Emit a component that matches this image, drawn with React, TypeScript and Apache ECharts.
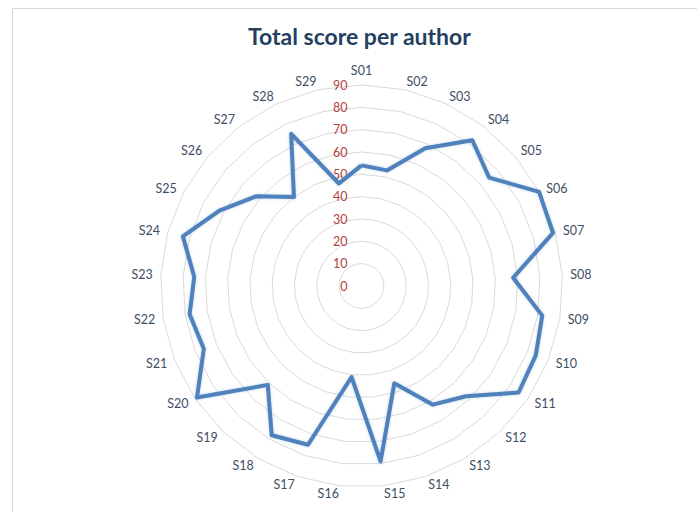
import React, { useEffect, useRef } from "react";
import * as echarts from "echarts";

const categories = [
  "S01", "S02", "S03", "S04", "S05", "S06", "S07", "S08", "S09", "S10",
  "S11", "S12", "S13", "S14", "S15", "S16", "S17", "S18", "S19", "S20",
  "S21", "S22", "S23", "S24", "S25", "S26", "S27", "S28", "S29",
];
const scores = [
  54, 53, 68, 82, 75, 90, 89, 68, 82, 84,
  85, 68, 62, 46, 79, 41, 75, 78, 61, 89,
  76, 78, 75, 83, 72, 62, 50, 75, 47,
];
const axisMax = 90;
const axisSplits = 9;
const titleText = "Total score per author";

export default function App() {
  const ref = useRef<HTMLDivElement>(null);
  useEffect(() => {
    if (!ref.current) return;
    const chart = echarts.init(ref.current, null, { renderer: "svg" });
    // ECharts places indicators counter-clockwise; reorder so they run clockwise
    const order = [0, ...categories.map((_, i) => i).slice(1).reverse()];
    const indicator = order.map((i, k) => ({
      name: categories[i],
      max: axisMax,
      min: 0,
      ...(k === 0
        ? {
            axisLabel: {
              show: true,
              showMinLabel: true,
              showMaxLabel: true,
              color: "#B4403B",
              fontFamily: "Lato",
              fontSize: 12.5,
              margin: 14,
            },
          }
        : {}),
    }));
    chart.setOption({
      animation: false,
      backgroundColor: "#ffffff",
      title: {
        text: titleText,
        left: 243,
        top: 19,
        textStyle: {
          fontFamily: "Lato",
          fontWeight: "bold",
          fontSize: 23,
          color: "#243F60",
        },
      },
      graphic: [
        {
          type: "rect",
          shape: { x: 12.5, y: 8.5, width: 720, height: 520 },
          style: { fill: "none", stroke: "#d9d9d9", lineWidth: 1 },
          silent: true,
          z: -1,
        },
      ],
      radar: {
        center: [361.5, 286],
        radius: 201,
        startAngle: 90,
        shape: "polygon",
        splitNumber: axisSplits,
        indicator,
        axisName: {
          color: "#3E4E64",
          fontFamily: "Lato",
          fontSize: 12.5,
        },
        nameGap: 8,
        axisLine: { show: false },
        axisTick: { show: false },
        axisLabel: { show: false },
        splitLine: { lineStyle: { color: "#d9d9d9", width: 1 } },
        splitArea: { show: false },
      },
      series: [
        {
          type: "radar",
          symbol: "none",
          lineStyle: {
            color: "#4F81BD",
            width: 4,
            shadowColor: "rgba(79,129,189,0.35)",
            shadowBlur: 3,
          },
          data: [{ value: order.map((i) => scores[i]), name: "Total score" }],
        },
      ],
    });
    return () => chart.dispose();
  }, []);
  return (
    <div
      ref={ref}
      style={{ position: "fixed", left: 0, top: 0, width: 697, height: 512 }}
    />
  );
}
